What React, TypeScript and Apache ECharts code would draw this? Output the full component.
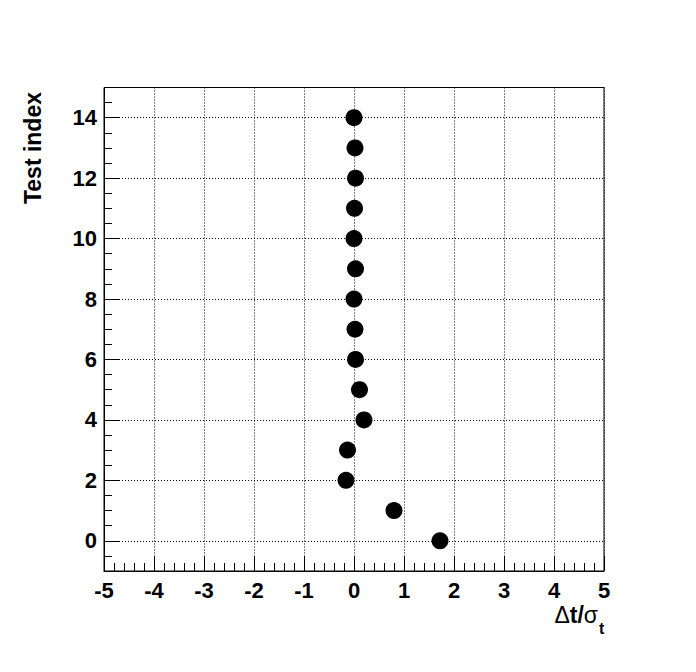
import React, { useEffect, useRef } from "react";
import * as echarts from "echarts";

// Data
const testIndex = [0, 1, 2, 3, 4, 5, 6, 7, 8, 9, 10, 11, 12, 13, 14];
const dtOverSigma = [1.72, 0.8, -0.16, -0.13, 0.2, 0.11, 0.03, 0.02, 0.0, 0.03, 0.0, 0.01, 0.03, 0.02, 0.0];

const xRange = [-5, 5];
const yRange = [-1, 15];
const yTitle = "Test index";

const FONT = "Liberation Sans, Arial, Helvetica, sans-serif";

export default function App() {
  const ref = useRef<HTMLDivElement>(null);

  useEffect(() => {
    if (!ref.current) return;
    const chart = echarts.init(ref.current, undefined, { renderer: "svg" });
    const points = testIndex.map((y, i) => [dtOverSigma[i], y]);

    const gridLeft = 104;
    const gridTop = 87.5;
    const gridWidth = 500;
    const gridHeight = 483.5;

    chart.setOption({
      animation: false,
      backgroundColor: "#ffffff",
      grid: {
        left: gridLeft,
        top: gridTop,
        width: gridWidth,
        height: gridHeight,
        show: true,
        borderColor: "#000",
        borderWidth: 1,
        backgroundColor: "transparent",
      },
      xAxis: {
        type: "value",
        min: xRange[0],
        max: xRange[1],
        interval: 1,
        axisLine: { show: true, onZero: false, lineStyle: { color: "#000", width: 1 } },
        axisTick: { show: true, inside: true, length: 15, lineStyle: { color: "#000", width: 1 } },
        minorTick: { show: true, splitNumber: 5, length: 8, lineStyle: { color: "#000", width: 1 } },
        splitLine: { show: true, lineStyle: { color: "#000", width: 1, type: [1, 2] } },
        axisLabel: {
          color: "#000",
          fontFamily: FONT,
          fontWeight: "bold",
          fontSize: 22,
          margin: 8,
        },
      },
      yAxis: [
        {
          type: "value",
          min: yRange[0],
          max: yRange[1],
          splitNumber: 8,
          minInterval: 2,
          maxInterval: 2,
          axisLine: { show: true, onZero: false, lineStyle: { color: "#000", width: 1 } },
          axisTick: { show: true, inside: true, length: 15, lineStyle: { color: "#000", width: 1 } },
          splitLine: { show: true, lineStyle: { color: "#000", width: 1, type: [1, 2] } },
          axisLabel: {
            color: "#000",
            fontFamily: FONT,
            fontWeight: "bold",
            fontSize: 22,
            margin: 7,
            showMinLabel: false,
            showMaxLabel: false,
            formatter: (v: number) => (Math.abs(v % 2) < 1e-9 ? String(v) : ""),
          },
        },
        {
          type: "value",
          position: "left",
          offset: 0,
          min: yRange[0],
          max: yRange[1],
          interval: 0.5,
          axisLine: { show: false, onZero: false },
          axisTick: { show: true, inside: true, length: 8, lineStyle: { color: "#000", width: 1 } },
          splitLine: { show: false },
          axisLabel: { show: false },
        },
      ],
      series: [
        {
          type: "scatter",
          xAxisIndex: 0,
          yAxisIndex: 0,
          data: points,
          symbol: "circle",
          symbolSize: 17,
          itemStyle: { color: "#000", opacity: 1 },
          z: 5,
        },
      ],
      graphic: [
        {
          type: "text",
          x: 33,
          y: 92,
          rotation: Math.PI / 2,
          style: {
            text: yTitle,
            font: `bold 23px ${FONT}`,
            fill: "#000",
            textAlign: "right",
            textVerticalAlign: "middle",
          },
        },
        {
          type: "text",
          x: 598,
          y: 615,
          style: {
            text: "{n|Δ}{b|t/}{n|σ}",
            fill: "#000",
            textAlign: "right",
            textVerticalAlign: "middle",
            rich: {
              n: { fontFamily: FONT, fontSize: 23, fontWeight: "normal", fill: "#000", color: "#000" },
              b: { fontFamily: FONT, fontSize: 23, fontWeight: "bold", fill: "#000", color: "#000" },
            },
          },
        },
        {
          type: "text",
          x: 599,
          y: 628,
          style: {
            text: "t",
            font: `bold 16px ${FONT}`,
            fill: "#000",
            textAlign: "left",
            textVerticalAlign: "middle",
          },
        },
      ],
    });

    return () => chart.dispose();
  }, []);

  return (
    <div
      ref={ref}
      style={{ position: "fixed", left: 0, top: 0, width: 696, height: 672, background: "#fff" }}
    />
  );
}
